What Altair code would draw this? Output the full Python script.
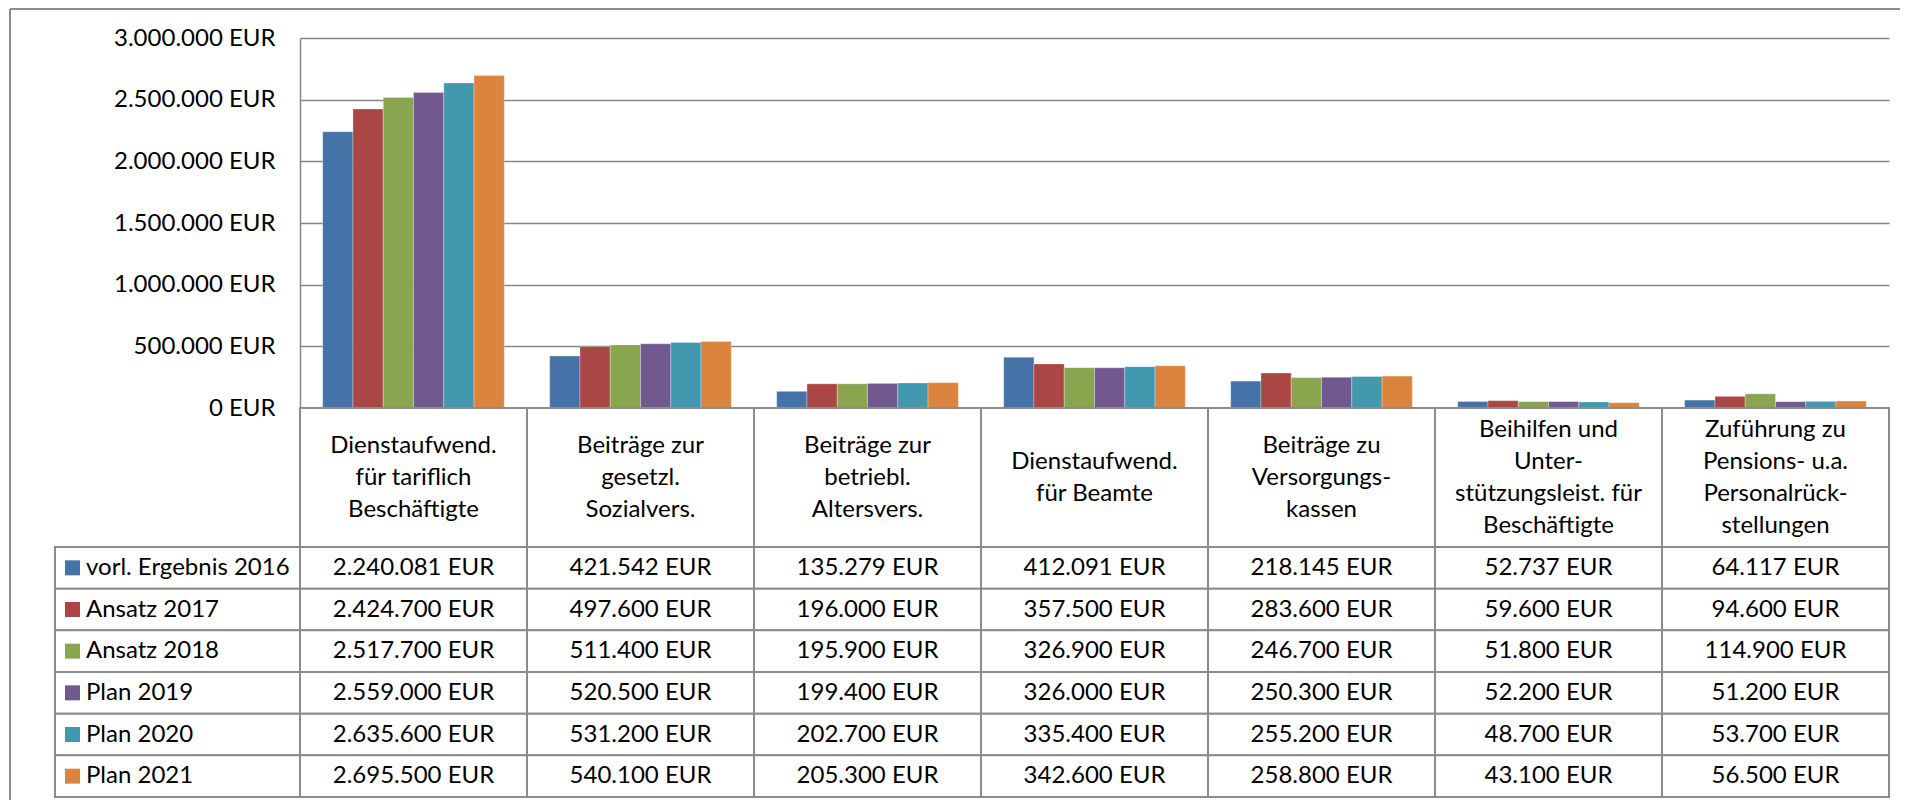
import altair as alt
import pandas as pd

# ---------------- data ----------------
categories = [
    "Dienstaufwend.\nfür tariflich\nBeschäftigte",
    "Beiträge zur\ngesetzl.\nSozialvers.",
    "Beiträge zur\nbetriebl.\nAltersvers.",
    "Dienstaufwend.\nfür Beamte",
    "Beiträge zu\nVersorgungs-\nkassen",
    "Beihilfen und\nUnter-\nstützungsleist. für\nBeschäftigte",
    "Zuführung zu\nPensions- u.a.\nPersonalrück-\nstellungen",
]
series = ["vorl. Ergebnis 2016", "Ansatz 2017", "Ansatz 2018",
          "Plan 2019", "Plan 2020", "Plan 2021"]

erg_2016 = [2240081, 421542, 135279, 412091, 218145, 52737, 64117]
ans_2017 = [2424700, 497600, 196000, 357500, 283600, 59600, 94600]
ans_2018 = [2517700, 511400, 195900, 326900, 246700, 51800, 114900]
plan_2019 = [2559000, 520500, 199400, 326000, 250300, 52200, 51200]
plan_2020 = [2635600, 531200, 202700, 335400, 255200, 48700, 53700]
plan_2021 = [2695500, 540100, 205300, 342600, 258800, 43100, 56500]

y_ticks = [0, 500000, 1000000, 1500000, 2000000, 2500000, 3000000]

colors = ["#4572A7", "#AA4643", "#89A54E", "#71588F", "#4198AF", "#DB843D"]

# ---------------- tables ----------------
rows = []
for s, vals in zip(series, [erg_2016, ans_2017, ans_2018, plan_2019, plan_2020, plan_2021]):
    for c, v in zip(categories, vals):
        rows.append({"cat": c, "series": s, "value": v})
df = pd.DataFrame(rows)
head_df = pd.DataFrame({"cat": categories})

# one row per header line, with its position relative to the cell centre
line_rows = []
for c in categories:
    parts = c.split("\n")
    n = len(parts)
    for i, p in enumerate(parts):
        line_rows.append({"cat": c, "line": p, "pos": (n - 1) / 2 - i})
lines_df = pd.DataFrame(line_rows)

leg_df = pd.DataFrame({"series": series})
one_df = pd.DataFrame({"k": [0]})

FONT = "Lato"
FS = 24
GRID = "#868686"
LINE = "#8c8c8c"
LINE_H = 32

W0, W = 245, 1589
H_PLOT, H_HEAD, H_DATA = 370, 139, 250

xs_bar = alt.Scale(domain=categories, paddingInner=0.2, paddingOuter=0.1)
xs_tab = alt.Scale(domain=categories, paddingInner=0, paddingOuter=0)
ys_tab = alt.Scale(domain=series, paddingInner=0, paddingOuter=0)
half = H_HEAD / (2 * LINE_H)
ys_head = alt.Scale(domain=[-half, half], nice=False, zero=False)
color_scale = alt.Scale(domain=series, range=colors)

# ---------------- frame (top-left cell) ----------------
frame_left = alt.Chart(one_df).mark_rule(color=LINE, strokeWidth=2).encode(
    x=alt.value(-45), y=alt.value(-29), y2=alt.value(762))
frame_top = alt.Chart(one_df).mark_rule(color=LINE, strokeWidth=2).encode(
    x=alt.value(-45), x2=alt.value(1845), y=alt.value(-29))
frame = alt.layer(frame_left, frame_top).properties(width=W0, height=H_PLOT)

# ---------------- bar chart ----------------
bars = alt.Chart(df).mark_bar(stroke="white", strokeWidth=0.6, strokeOpacity=0.5).encode(
    x=alt.X("cat:N", scale=xs_bar, axis=None),
    xOffset=alt.XOffset("series:N",
                        scale=alt.Scale(domain=series, paddingInner=0, paddingOuter=0)),
    y=alt.Y("value:Q",
            scale=alt.Scale(domain=[0, 3000000], nice=False),
            axis=alt.Axis(values=y_ticks, format="$,.0f", title=None,
                          grid=True, gridColor=GRID, gridWidth=1.5,
                          domainColor=GRID, domainWidth=1.5, ticks=False,
                          labelFont=FONT, labelFontSize=FS, labelColor="black",
                          labelPadding=25)),
    color=alt.Color("series:N", scale=color_scale, legend=None),
).properties(width=W, height=H_PLOT)

# ---------------- empty cell ----------------
empty = alt.Chart(one_df).mark_text(text="").encode(
    x=alt.value(0), y=alt.value(0)).properties(width=W0, height=H_HEAD)

# ---------------- header row ----------------
head_rect = alt.Chart(head_df).mark_rect(fill="white", stroke=LINE, strokeWidth=2).encode(
    x=alt.X("cat:N", scale=xs_tab, axis=None))
head_text = alt.Chart(lines_df).mark_text(
    font=FONT, fontSize=FS, align="center", baseline="middle", color="black").encode(
    x=alt.X("cat:N", scale=xs_tab, axis=None),
    y=alt.Y("pos:Q", scale=ys_head, axis=None),
    text="line:N")
header = alt.layer(head_rect, head_text).resolve_scale(y="independent").properties(
    width=W, height=H_HEAD)

# ---------------- legend column ----------------
leg_rect = alt.Chart(leg_df).mark_rect(fill="white", stroke=LINE, strokeWidth=2).encode(
    y=alt.Y("series:N", scale=ys_tab, axis=None))
leg_sw = alt.Chart(leg_df).mark_square(size=225, opacity=1).encode(
    y=alt.Y("series:N", scale=ys_tab, axis=None), x=alt.value(17.5),
    color=alt.Color("series:N", scale=color_scale, legend=None))
leg_txt = alt.Chart(leg_df).mark_text(
    font=FONT, fontSize=FS, align="left", baseline="middle", color="black").encode(
    y=alt.Y("series:N", scale=ys_tab, axis=None), x=alt.value(31), text="series:N")
legend = alt.layer(leg_rect, leg_sw, leg_txt).properties(width=W0, height=H_DATA)

# ---------------- data cells ----------------
cell_rect = alt.Chart(df).mark_rect(fill="white", stroke=LINE, strokeWidth=2).encode(
    x=alt.X("cat:N", scale=xs_tab, axis=None),
    y=alt.Y("series:N", scale=ys_tab, axis=None))
cell_txt = alt.Chart(df).mark_text(
    font=FONT, fontSize=FS, align="center", baseline="middle", color="black").encode(
    x=alt.X("cat:N", scale=xs_tab, axis=None),
    y=alt.Y("series:N", scale=ys_tab, axis=None),
    text=alt.Text("value:Q", format="$,.0f"))
data_tab = alt.layer(cell_rect, cell_txt).properties(width=W, height=H_DATA)

chart = alt.concat(
    frame, bars, empty, header, legend, data_tab,
    columns=2, spacing=0, bounds="flush", align="each",
).resolve_scale(
    x="independent", y="independent"
).properties(
    padding={"left": 1, "top": 0, "right": 0, "bottom": 0},
    background="white",
).configure(
    locale={"number": {"decimal": ",", "thousands": ".", "grouping": [3],
                       "currency": ["", " EUR"]}},
).configure_view(strokeWidth=0)

chart.save("out.html", embed_options={"renderer": "svg", "actions": False})
